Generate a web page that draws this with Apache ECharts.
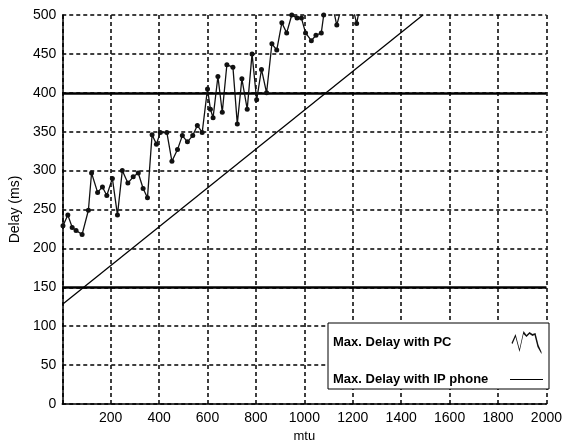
<!DOCTYPE html>
<html>
<head>
<meta charset="utf-8">
<script src="https://cdn.jsdelivr.net/npm/echarts@6/dist/echarts.min.js"></script>
<style>
  html, body { margin: 0; padding: 0; background: #fff; }
  #main { width: 565px; height: 448px; }
</style>
</head>
<body>
<div id="main"></div>
<script>
// mtu values and measured max delay with PC (values above 500 are clipped in the plot)
var pcMtu = [3, 23, 41, 57, 82, 108, 121, 146, 166, 184, 207, 228, 248, 271, 293, 314, 334, 352,
  371, 389, 405, 432, 453, 476, 496, 517, 539, 558, 578, 600, 612, 623, 643, 661, 680, 705,
  723, 742, 764, 784, 803, 823, 844, 866, 886, 907, 927, 948, 970, 988, 1005, 1029, 1048,
  1070, 1080, 1100, 1118, 1134, 1150, 1175, 1200, 1216, 1228];
var pcDelay = [229, 243, 227, 223, 218, 249, 297, 272, 279, 268, 290, 243, 300, 284, 292, 297, 277, 265,
  346, 334, 349, 349, 312, 327, 345, 337, 345, 358, 349, 405, 379, 368, 421, 375, 436, 433,
  360, 418, 379, 450, 391, 430, 400, 463, 455, 490, 477, 500, 496, 496, 477, 467, 474,
  477, 500, 515, 510, 487, 506, 512, 510, 489, 508];
// straight line for IP phone
var phoneMtu = [0, 1490];
var phoneDelay = [128, 500];
// limits drawn as thick horizontal lines
var limits = [150, 400];

var myChart = echarts.init(document.getElementById('main'));

var gridDash = { color: '#000', width: 1.5, type: [4, 3] };

var option = {
  animation: false,
  backgroundColor: '#fff',
  grid: { left: 61, right: 15, top: 15, bottom: 41 },
  textStyle: { fontFamily: 'Liberation Sans, Arial, sans-serif' },
  legend: {
    orient: 'vertical',
    left: 328,
    top: 323,
    align: 'right',
    padding: [8, 6, 3, 5],
    itemGap: 19,
    itemWidth: 33,
    itemHeight: 23,
    backgroundColor: '#fff',
    borderColor: '#000',
    borderWidth: 1,
    formatter: '{t|{name}}',
    textStyle: {
      rich: {
        t: { width: 172, align: 'left', fontSize: 13, fontWeight: 'bold', color: '#000' }
      }
    },
    data: [
      { name: 'Max. Delay with PC',
        icon: 'path://M0,12L4,3L8,18L12,0L15,4L18,1L21,3L24,2L27,14L30,21L30,23L26,16L23,4L21,5L18,3L15,6L12,3L8,21L4,6L1,13Z' },
      { name: 'Max. Delay with IP phone', icon: 'path://M0,11L33,11L33,12L0,12Z' }
    ]
  },
  xAxis: {
    type: 'value',
    min: 0,
    max: 2000,
    interval: 200,
    name: 'mtu',
    nameLocation: 'middle',
    nameGap: 26,
    nameTextStyle: { fontSize: 13, color: '#000' },
    axisLine: { lineStyle: { color: '#000', width: 1.5 } },
    axisTick: { show: false },
    axisLabel: {
      fontSize: 14, color: '#000', margin: 7,
      formatter: function (v) { return v === 0 ? '' : String(v); }
    },
    splitLine: { show: true, lineStyle: gridDash }
  },
  yAxis: {
    type: 'value',
    min: 0,
    max: 500,
    interval: 50,
    name: 'Delay (ms)',
    nameLocation: 'middle',
    nameGap: 35,
    nameTextStyle: { fontSize: 14, color: '#000' },
    axisLine: { show: true, lineStyle: { color: '#000', width: 1.5 } },
    axisTick: { show: false },
    axisLabel: { fontSize: 14, color: '#000', margin: 6 },
    splitLine: { show: true, lineStyle: gridDash }
  },
  series: [
    {
      name: 'Max. Delay with PC',
      type: 'line',
      clip: true,
      data: pcMtu.map(function (m, i) { return [m, pcDelay[i]]; }),
      symbol: 'circle',
      symbolSize: 5,
      lineStyle: { color: '#111', width: 1.3 },
      itemStyle: { color: '#111' },
      z: 5
    },
    {
      name: 'Max. Delay with IP phone',
      type: 'line',
      clip: true,
      data: phoneMtu.map(function (m, i) { return [m, phoneDelay[i]]; }),
      symbol: 'none',
      lineStyle: { color: '#000', width: 1.3 },
      itemStyle: { color: '#000' },
      markLine: {
        silent: true,
        symbol: 'none',
        label: { show: false },
        lineStyle: { color: '#000', width: 2.5, type: 'solid' },
        data: limits.map(function (v) { return { yAxis: v }; })
      },
      z: 4
    }
  ]
};

myChart.setOption(option);
</script>
</body>
</html>
